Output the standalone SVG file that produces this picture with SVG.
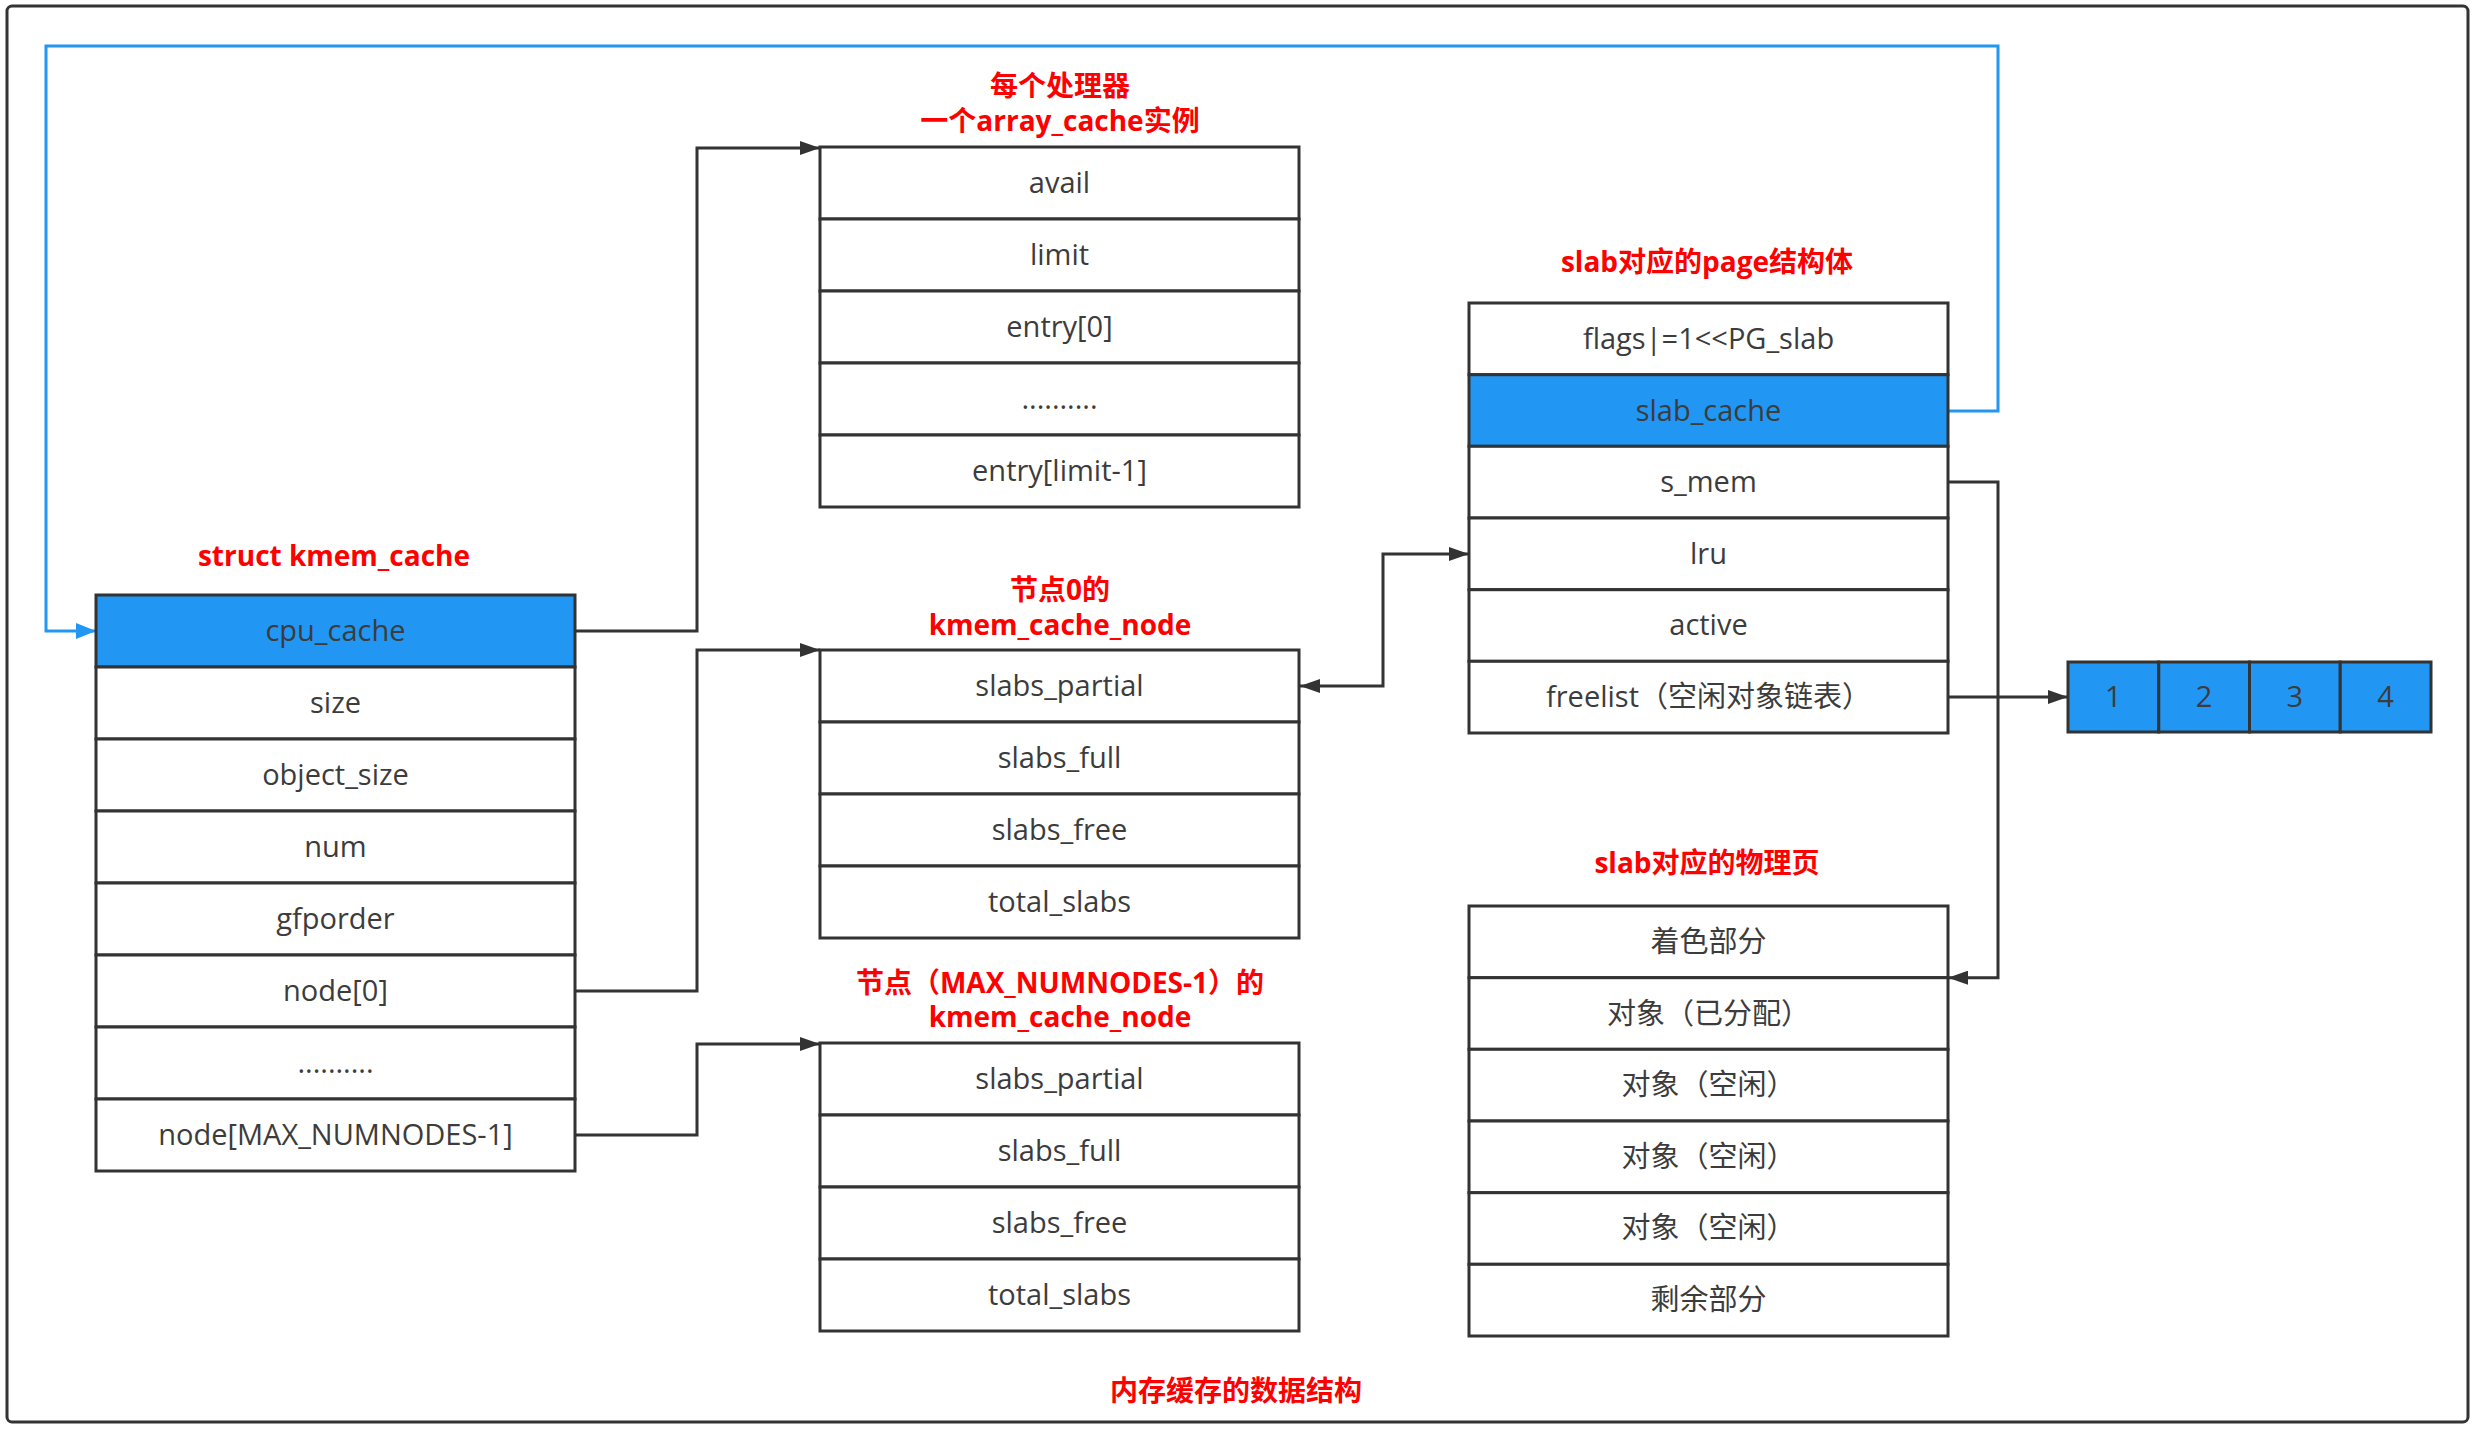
<svg xmlns="http://www.w3.org/2000/svg" width="2478" height="1434" viewBox="0 0 2478 1434">
<style>
.row{fill:#ffffff;stroke:#333333;stroke-width:3}
.hl{fill:#2196F3;stroke:#333333;stroke-width:3}
.t{font-family:"Open Sans","Noto Sans CJK SC",sans-serif;font-size:29px;fill:#3c3c3c;text-anchor:middle}
.title{font-family:"Open Sans","Noto Sans CJK SC",sans-serif;font-weight:bold;font-size:28px;fill:#ff0000;text-anchor:middle}
.conn{fill:none;stroke:#333333;stroke-width:3}
.blue{fill:none;stroke:#2196F3;stroke-width:3}
</style>
<defs>
<marker id="arr" markerUnits="userSpaceOnUse" markerWidth="20" markerHeight="14" refX="20" refY="7" orient="auto-start-reverse"><path d="M0,0 L20,7 L0,14 z" fill="#333333"/></marker>
<marker id="arrb" markerUnits="userSpaceOnUse" markerWidth="20" markerHeight="16" refX="20" refY="8" orient="auto"><path d="M0,0 L20,8 L0,16 z" fill="#2196F3"/></marker>
</defs>
<rect x="0" y="0" width="2478" height="1434" fill="#ffffff"/>
<rect id="frame" x="7" y="6" width="2461" height="1416" rx="5" fill="none" stroke="#333333" stroke-width="3"/>

<g id="connectors">
<path class="blue" d="M1948,411 H1998 V46 H46 V631 H96" marker-end="url(#arrb)"/>
<path class="conn" d="M575,631 H697 V148 H820" marker-end="url(#arr)"/>
<path class="conn" d="M575,991 H697 V650 H820" marker-end="url(#arr)"/>
<path class="conn" d="M575,1135 H697 V1044 H820" marker-end="url(#arr)"/>
<path class="conn" d="M1300,686 H1383 V554 H1469" marker-start="url(#arr)" marker-end="url(#arr)"/>
<path class="conn" d="M1948,482 H1998 V977.7 H1948" marker-end="url(#arr)"/>
<path class="conn" d="M1948,697 H2068" marker-end="url(#arr)"/>
</g>

<g id="kmem_cache">
<text class="title" x="334" y="566">struct kmem_cache</text>
<rect class="hl" x="96" y="595" width="479" height="72"/><text class="t" x="335.5" y="641">cpu_cache</text>
<rect class="row" x="96" y="667" width="479" height="72"/><text class="t" x="335.5" y="713">size</text>
<rect class="row" x="96" y="739" width="479" height="72"/><text class="t" x="335.5" y="785">object_size</text>
<rect class="row" x="96" y="811" width="479" height="72"/><text class="t" x="335.5" y="857">num</text>
<rect class="row" x="96" y="883" width="479" height="72"/><text class="t" x="335.5" y="929">gfporder</text>
<rect class="row" x="96" y="955" width="479" height="72"/><text class="t" x="335.5" y="1001">node[0]</text>
<rect class="row" x="96" y="1027" width="479" height="72"/><text class="t" x="335.5" y="1073">..........</text>
<rect class="row" x="96" y="1099" width="479" height="72"/><text class="t" x="335.5" y="1145">node[MAX_NUMNODES-1]</text>
</g>

<g id="array_cache">
<text class="title" x="1060" y="96">每个处理器</text>
<text class="title" x="1060" y="131">一个array_cache实例</text>
<rect class="row" x="820" y="147" width="479" height="72"/><text class="t" x="1059.5" y="193">avail</text>
<rect class="row" x="820" y="219" width="479" height="72"/><text class="t" x="1059.5" y="265">limit</text>
<rect class="row" x="820" y="291" width="479" height="72"/><text class="t" x="1059.5" y="337">entry[0]</text>
<rect class="row" x="820" y="363" width="479" height="72"/><text class="t" x="1059.5" y="409">..........</text>
<rect class="row" x="820" y="435" width="479" height="72"/><text class="t" x="1059.5" y="481">entry[limit-1]</text>
</g>

<g id="kmem_cache_node_0">
<text class="title" x="1060" y="600">节点0的</text>
<text class="title" x="1060" y="635">kmem_cache_node</text>
<rect class="row" x="820" y="650" width="479" height="72"/><text class="t" x="1059.5" y="696">slabs_partial</text>
<rect class="row" x="820" y="722" width="479" height="72"/><text class="t" x="1059.5" y="768">slabs_full</text>
<rect class="row" x="820" y="794" width="479" height="72"/><text class="t" x="1059.5" y="840">slabs_free</text>
<rect class="row" x="820" y="866" width="479" height="72"/><text class="t" x="1059.5" y="912">total_slabs</text>
</g>

<g id="kmem_cache_node_n">
<text class="title" x="1060" y="993">节点（MAX_NUMNODES-1）的</text>
<text class="title" x="1060" y="1027">kmem_cache_node</text>
<rect class="row" x="820" y="1043" width="479" height="72"/><text class="t" x="1059.5" y="1089">slabs_partial</text>
<rect class="row" x="820" y="1115" width="479" height="72"/><text class="t" x="1059.5" y="1161">slabs_full</text>
<rect class="row" x="820" y="1187" width="479" height="72"/><text class="t" x="1059.5" y="1233">slabs_free</text>
<rect class="row" x="820" y="1259" width="479" height="72"/><text class="t" x="1059.5" y="1305">total_slabs</text>
</g>

<g id="page_struct">
<text class="title" x="1707" y="272">slab对应的page结构体</text>
<rect class="row" x="1469" y="303" width="479" height="71.7"/><text class="t" x="1708.5" y="349">flags|=1&lt;&lt;PG_slab</text>
<rect class="hl" x="1469" y="374.7" width="479" height="71.6"/><text class="t" x="1708.5" y="421">slab_cache</text>
<rect class="row" x="1469" y="446.3" width="479" height="71.7"/><text class="t" x="1708.5" y="492">s_mem</text>
<rect class="row" x="1469" y="518" width="479" height="71.7"/><text class="t" x="1708.5" y="564">lru</text>
<rect class="row" x="1469" y="589.7" width="479" height="71.6"/><text class="t" x="1708.5" y="635">active</text>
<rect class="row" x="1469" y="661.3" width="479" height="71.7"/><text class="t" x="1708.5" y="707">freelist（空闲对象链表）</text>
</g>

<g id="freelist_objects">
<rect class="hl" x="2068" y="662" width="90.75" height="70"/><text class="t" x="2113.4" y="707">1</text>
<rect class="hl" x="2158.75" y="662" width="90.75" height="70"/><text class="t" x="2204.1" y="707">2</text>
<rect class="hl" x="2249.5" y="662" width="90.75" height="70"/><text class="t" x="2294.9" y="707">3</text>
<rect class="hl" x="2340.25" y="662" width="90.75" height="70"/><text class="t" x="2385.6" y="707">4</text>
</g>

<g id="physical_page">
<text class="title" x="1707" y="873">slab对应的物理页</text>
<rect class="row" x="1469" y="906" width="479" height="71.7"/><text class="t" x="1708.5" y="952">着色部分</text>
<rect class="row" x="1469" y="977.7" width="479" height="71.6"/><text class="t" x="1708.5" y="1024">对象（已分配）</text>
<rect class="row" x="1469" y="1049.3" width="479" height="71.7"/><text class="t" x="1708.5" y="1095">对象（空闲）</text>
<rect class="row" x="1469" y="1121" width="479" height="71.7"/><text class="t" x="1708.5" y="1167">对象（空闲）</text>
<rect class="row" x="1469" y="1192.7" width="479" height="71.6"/><text class="t" x="1708.5" y="1238">对象（空闲）</text>
<rect class="row" x="1469" y="1264.3" width="479" height="71.7"/><text class="t" x="1708.5" y="1310">剩余部分</text>
</g>

<g id="caption">
<text class="title" x="1236" y="1401">内存缓存的数据结构</text>
</g>
</svg>
